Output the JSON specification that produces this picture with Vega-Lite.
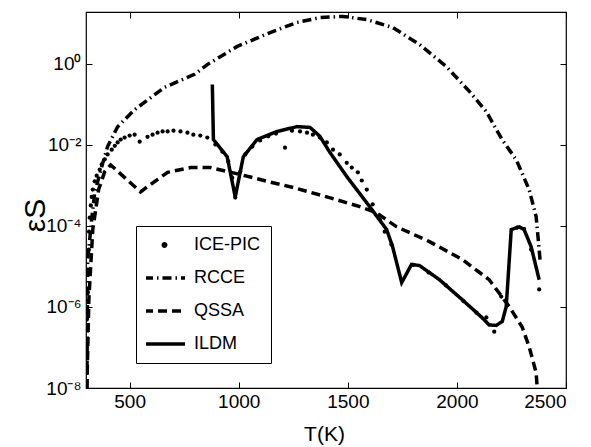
{
  "$schema": "https://vega.github.io/schema/vega-lite/v6.json",
  "width": 480,
  "height": 376,
  "autosize": {"type": "none"},
  "padding": {"left": 86, "top": 12, "right": 25, "bottom": 59},
  "background": "white",
  "config": {
    "view": {"stroke": "black", "strokeWidth": 1.2},
    "font": "Liberation Sans",
    "axis": {
      "domain": false, "grid": false, "tickColor": "black", "tickSize": -6, "tickWidth": 1,
      "labelColor": "black", "labelFont": "Liberation Sans", "labelFontSize": 19,
      "titleFont": "Liberation Sans", "titleColor": "black", "titleFontWeight": "normal"
    }
  },
  "data": {"values": [
    {"series": "RCCE", "T": 304, "eps": 1e-8},
    {"series": "RCCE", "T": 306, "eps": 3.2e-7},
    {"series": "RCCE", "T": 308, "eps": 1.48e-5},
    {"series": "RCCE", "T": 326, "eps": 1.45e-4},
    {"series": "RCCE", "T": 340, "eps": 6.6e-4},
    {"series": "RCCE", "T": 372, "eps": 2.9e-3},
    {"series": "RCCE", "T": 399, "eps": 9.1e-3},
    {"series": "RCCE", "T": 445, "eps": 2.8e-2},
    {"series": "RCCE", "T": 523, "eps": 7.4e-2},
    {"series": "RCCE", "T": 660, "eps": 0.263},
    {"series": "RCCE", "T": 797, "eps": 0.55},
    {"series": "RCCE", "T": 856, "eps": 0.955},
    {"series": "RCCE", "T": 993, "eps": 2.69},
    {"series": "RCCE", "T": 1144, "eps": 5.9},
    {"series": "RCCE", "T": 1267, "eps": 10.5},
    {"series": "RCCE", "T": 1372, "eps": 13.8},
    {"series": "RCCE", "T": 1477, "eps": 14.8},
    {"series": "RCCE", "T": 1587, "eps": 12.3},
    {"series": "RCCE", "T": 1705, "eps": 7.9},
    {"series": "RCCE", "T": 1829, "eps": 3.0},
    {"series": "RCCE", "T": 1952, "eps": 0.85},
    {"series": "RCCE", "T": 2057, "eps": 0.209},
    {"series": "RCCE", "T": 2135, "eps": 0.066},
    {"series": "RCCE", "T": 2208, "eps": 0.0132},
    {"series": "RCCE", "T": 2272, "eps": 4.3e-3},
    {"series": "RCCE", "T": 2331, "eps": 7.9e-4},
    {"series": "RCCE", "T": 2363, "eps": 1.7e-4},
    {"series": "RCCE", "T": 2377, "eps": 2.6e-5},
    {"series": "RCCE", "T": 2382, "eps": 1.26e-5},

    {"series": "QSSA", "T": 304, "eps": 1e-8},
    {"series": "QSSA", "T": 313, "eps": 1.5e-6},
    {"series": "QSSA", "T": 331, "eps": 8.1e-5},
    {"series": "QSSA", "T": 358, "eps": 7.9e-4},
    {"series": "QSSA", "T": 386, "eps": 2.2e-3},
    {"series": "QSSA", "T": 413, "eps": 3.2e-3},
    {"series": "QSSA", "T": 550, "eps": 6.9e-4},
    {"series": "QSSA", "T": 582, "eps": 9.3e-4},
    {"series": "QSSA", "T": 674, "eps": 2.1e-3},
    {"series": "QSSA", "T": 779, "eps": 2.75e-3},
    {"series": "QSSA", "T": 870, "eps": 2.75e-3},
    {"series": "QSSA", "T": 1007, "eps": 1.86e-3},
    {"series": "QSSA", "T": 1130, "eps": 1.26e-3},
    {"series": "QSSA", "T": 1249, "eps": 8.9e-4},
    {"series": "QSSA", "T": 1404, "eps": 5.2e-4},
    {"series": "QSSA", "T": 1555, "eps": 3.0e-4},
    {"series": "QSSA", "T": 1632, "eps": 2.1e-4},
    {"series": "QSSA", "T": 1724, "eps": 9.5e-5},
    {"series": "QSSA", "T": 1874, "eps": 4.1e-5},
    {"series": "QSSA", "T": 2025, "eps": 1.48e-5},
    {"series": "QSSA", "T": 2148, "eps": 4.7e-6},
    {"series": "QSSA", "T": 2240, "eps": 1.02e-6},
    {"series": "QSSA", "T": 2299, "eps": 3.2e-7},
    {"series": "QSSA", "T": 2331, "eps": 1.05e-7},
    {"series": "QSSA", "T": 2363, "eps": 2.4e-8},
    {"series": "QSSA", "T": 2368, "eps": 1e-8},

    {"series": "ILDM", "T": 879, "eps": 0.31},
    {"series": "ILDM", "T": 884, "eps": 0.0135},
    {"series": "ILDM", "T": 947, "eps": 5.1e-3},
    {"series": "ILDM", "T": 984, "eps": 5.2e-4},
    {"series": "ILDM", "T": 1021, "eps": 5.1e-3},
    {"series": "ILDM", "T": 1084, "eps": 0.0135},
    {"series": "ILDM", "T": 1176, "eps": 0.0214},
    {"series": "ILDM", "T": 1267, "eps": 0.0282},
    {"series": "ILDM", "T": 1327, "eps": 0.0269},
    {"series": "ILDM", "T": 1372, "eps": 0.0162},
    {"series": "ILDM", "T": 1418, "eps": 6.5e-3},
    {"series": "ILDM", "T": 1495, "eps": 1.66e-3},
    {"series": "ILDM", "T": 1600, "eps": 3.0e-4},
    {"series": "ILDM", "T": 1678, "eps": 8.1e-5},
    {"series": "ILDM", "T": 1705, "eps": 3.1e-5},
    {"series": "ILDM", "T": 1747, "eps": 4.0e-6},
    {"series": "ILDM", "T": 1792, "eps": 1.12e-5},
    {"series": "ILDM", "T": 1829, "eps": 1.05e-5},
    {"series": "ILDM", "T": 1920, "eps": 4.7e-6},
    {"series": "ILDM", "T": 2025, "eps": 1.5e-6},
    {"series": "ILDM", "T": 2116, "eps": 5.4e-7},
    {"series": "ILDM", "T": 2148, "eps": 3.6e-7},
    {"series": "ILDM", "T": 2180, "eps": 3.5e-7},
    {"series": "ILDM", "T": 2208, "eps": 4.4e-7},
    {"series": "ILDM", "T": 2226, "eps": 1.02e-6},
    {"series": "ILDM", "T": 2249, "eps": 8.1e-5},
    {"series": "ILDM", "T": 2285, "eps": 9.5e-5},
    {"series": "ILDM", "T": 2308, "eps": 8.1e-5},
    {"series": "ILDM", "T": 2340, "eps": 3.1e-5},
    {"series": "ILDM", "T": 2377, "eps": 4.7e-6},

    {"series": "ICE-PIC", "T": 304, "eps": 4.9e-7},
    {"series": "ICE-PIC", "T": 308, "eps": 2.3e-6},
    {"series": "ICE-PIC", "T": 309, "eps": 8.3e-6},
    {"series": "ICE-PIC", "T": 313, "eps": 2.6e-5},
    {"series": "ICE-PIC", "T": 314, "eps": 7.2e-5},
    {"series": "ICE-PIC", "T": 317, "eps": 1.6e-4},
    {"series": "ICE-PIC", "T": 322, "eps": 3.2e-4},
    {"series": "ICE-PIC", "T": 326, "eps": 5.2e-4},
    {"series": "ICE-PIC", "T": 331, "eps": 7.9e-4},
    {"series": "ICE-PIC", "T": 340, "eps": 1.26e-3},
    {"series": "ICE-PIC", "T": 349, "eps": 1.74e-3},
    {"series": "ICE-PIC", "T": 363, "eps": 2.45e-3},
    {"series": "ICE-PIC", "T": 372, "eps": 3.3e-3},
    {"series": "ICE-PIC", "T": 386, "eps": 4.4e-3},
    {"series": "ICE-PIC", "T": 399, "eps": 5.8e-3},
    {"series": "ICE-PIC", "T": 418, "eps": 7.6e-3},
    {"series": "ICE-PIC", "T": 432, "eps": 9.5e-3},
    {"series": "ICE-PIC", "T": 445, "eps": 0.0115},
    {"series": "ICE-PIC", "T": 459, "eps": 0.0135},
    {"series": "ICE-PIC", "T": 477, "eps": 0.0151},
    {"series": "ICE-PIC", "T": 500, "eps": 0.017},
    {"series": "ICE-PIC", "T": 523, "eps": 0.0178},
    {"series": "ICE-PIC", "T": 546, "eps": 0.012},
    {"series": "ICE-PIC", "T": 582, "eps": 0.0158},
    {"series": "ICE-PIC", "T": 605, "eps": 0.0178},
    {"series": "ICE-PIC", "T": 628, "eps": 0.02},
    {"series": "ICE-PIC", "T": 651, "eps": 0.0214},
    {"series": "ICE-PIC", "T": 674, "eps": 0.0214},
    {"series": "ICE-PIC", "T": 701, "eps": 0.0224},
    {"series": "ICE-PIC", "T": 733, "eps": 0.0214},
    {"series": "ICE-PIC", "T": 765, "eps": 0.02},
    {"series": "ICE-PIC", "T": 792, "eps": 0.0178},
    {"series": "ICE-PIC", "T": 824, "eps": 0.017},
    {"series": "ICE-PIC", "T": 856, "eps": 0.0151},
    {"series": "ICE-PIC", "T": 893, "eps": 0.0102},
    {"series": "ICE-PIC", "T": 925, "eps": 6.8e-3},
    {"series": "ICE-PIC", "T": 952, "eps": 3.9e-3},
    {"series": "ICE-PIC", "T": 970, "eps": 1.55e-3},
    {"series": "ICE-PIC", "T": 984, "eps": 5.0e-4},
    {"series": "ICE-PIC", "T": 1007, "eps": 2.2e-3},
    {"series": "ICE-PIC", "T": 1030, "eps": 5.8e-3},
    {"series": "ICE-PIC", "T": 1062, "eps": 9.1e-3},
    {"series": "ICE-PIC", "T": 1098, "eps": 0.0129},
    {"series": "ICE-PIC", "T": 1135, "eps": 0.0162},
    {"series": "ICE-PIC", "T": 1171, "eps": 0.019},
    {"series": "ICE-PIC", "T": 1212, "eps": 8.5e-3},
    {"series": "ICE-PIC", "T": 1244, "eps": 0.0224},
    {"series": "ICE-PIC", "T": 1281, "eps": 0.0214},
    {"series": "ICE-PIC", "T": 1313, "eps": 0.02},
    {"series": "ICE-PIC", "T": 1340, "eps": 0.0178},
    {"series": "ICE-PIC", "T": 1372, "eps": 0.0151},
    {"series": "ICE-PIC", "T": 1404, "eps": 0.0115},
    {"series": "ICE-PIC", "T": 1432, "eps": 7.6e-3},
    {"series": "ICE-PIC", "T": 1463, "eps": 5.8e-3},
    {"series": "ICE-PIC", "T": 1495, "eps": 3.6e-3},
    {"series": "ICE-PIC", "T": 1518, "eps": 2.75e-3},
    {"series": "ICE-PIC", "T": 1546, "eps": 2.1e-3},
    {"series": "ICE-PIC", "T": 1564, "eps": 1.32e-3},
    {"series": "ICE-PIC", "T": 1587, "eps": 7.9e-4},
    {"series": "ICE-PIC", "T": 1614, "eps": 3.4e-4},
    {"series": "ICE-PIC", "T": 1646, "eps": 1.45e-4},
    {"series": "ICE-PIC", "T": 1669, "eps": 7.2e-5},
    {"series": "ICE-PIC", "T": 1700, "eps": 3.5e-5},
    {"series": "ICE-PIC", "T": 1800, "eps": 1.1e-5},
    {"series": "ICE-PIC", "T": 1870, "eps": 7.1e-6},
    {"series": "ICE-PIC", "T": 1950, "eps": 3.4e-6},
    {"series": "ICE-PIC", "T": 2030, "eps": 1.4e-6},
    {"series": "ICE-PIC", "T": 2090, "eps": 7.2e-7},
    {"series": "ICE-PIC", "T": 2135, "eps": 5.5e-7},
    {"series": "ICE-PIC", "T": 2171, "eps": 2.45e-7},
    {"series": "ICE-PIC", "T": 2203, "eps": 1.8e-6},
    {"series": "ICE-PIC", "T": 2276, "eps": 9.1e-5},
    {"series": "ICE-PIC", "T": 2308, "eps": 8.5e-5},
    {"series": "ICE-PIC", "T": 2340, "eps": 2.6e-5},
    {"series": "ICE-PIC", "T": 2377, "eps": 2.7e-6}
  ]},
  "resolve": {"axis": {"x": "independent", "y": "independent"}},
  "layer": [
    {
      "transform": [{"filter": "datum.series === 'ICE-PIC'"}],
      "mark": {"type": "point", "filled": true, "color": "black", "size": 18, "opacity": 1, "clip": true},
      "encoding": {
        "x": {"field": "T", "type": "quantitative",
          "scale": {"domain": [300, 2500], "nice": false, "zero": false},
          "axis": {"orient": "top", "labels": false, "title": null, "values": [500, 1000, 1500, 2000, 2500]}},
        "y": {"field": "eps", "type": "quantitative",
          "scale": {"type": "log", "domain": [1e-8, 19], "nice": false},
          "axis": {"orient": "right", "labels": false, "title": null, "values": [1e-8, 1e-6, 1e-4, 1e-2, 1]}}
      }
    },
    {
      "transform": [{"filter": "datum.series !== 'ICE-PIC'"}],
      "mark": {"type": "line", "color": "black", "stroke": "black", "strokeWidth": 3.5, "clip": true},
      "encoding": {
        "x": {"field": "T", "type": "quantitative",
          "scale": {"domain": [300, 2500], "nice": false, "zero": false},
          "axis": {"orient": "bottom", "title": "T(K)", "values": [500, 1000, 1500, 2000, 2500], "format": "d",
            "labelPadding": 10, "titleFontSize": 21, "titleX": 238, "titleY": 46, "titleBaseline": "middle"}},
        "y": {"field": "eps", "type": "quantitative",
          "scale": {"type": "log", "domain": [1e-8, 19], "nice": false},
          "axis": {"orient": "left", "title": "εS", "values": [1e-8, 1e-6, 1e-4, 1e-2, 1],
            "labelPadding": 11, "titleFontSize": 30, "titleX": -51, "titleY": 203,
            "titleBaseline": "middle", "titleAlign": "center", "titleAngle": 270,
            "labelExpr": "'10' + (round(log(datum.value)/LN10) == 0 ? '⁰' : round(log(datum.value)/LN10) == -2 ? '⁻²' : round(log(datum.value)/LN10) == -4 ? '⁻⁴' : round(log(datum.value)/LN10) == -6 ? '⁻⁶' : '⁻⁸')"}},
        "strokeDash": {"field": "series", "type": "nominal",
          "scale": {"domain": ["ICE-PIC", "RCCE", "QSSA", "ILDM"], "range": [[1, 0], [9, 4, 1.5, 4], [9, 5], [1, 0]]},
          "legend": {
            "orient": "none", "legendX": 50, "legendY": 214, "title": null,
            "strokeColor": "black", "fillColor": "white", "padding": 10,
            "symbolType": "stroke", "symbolSize": 1681, "symbolStrokeWidth": 3.5, "symbolStrokeColor": "black",
            "clipHeight": 18, "rowPadding": 15, "labelOffset": 7, "symbolOffset": -4,
            "labelFont": "Liberation Sans", "labelFontSize": 18, "labelColor": "black",
            "encode": {"symbols": {"update": {
              "shape": {"signal": "datum.value === 'ICE-PIC' ? 'circle' : 'stroke'"},
              "size": {"signal": "datum.value === 'ICE-PIC' ? 6 : 1681"},
              "stroke": {"value": "black"},
              "strokeWidth": {"value": 3.5},
              "opacity": {"value": 1},
              "fill": {"signal": "datum.value === 'ICE-PIC' ? 'black' : 'transparent'"}
            }}}
          }}
      }
    }
  ]
}
